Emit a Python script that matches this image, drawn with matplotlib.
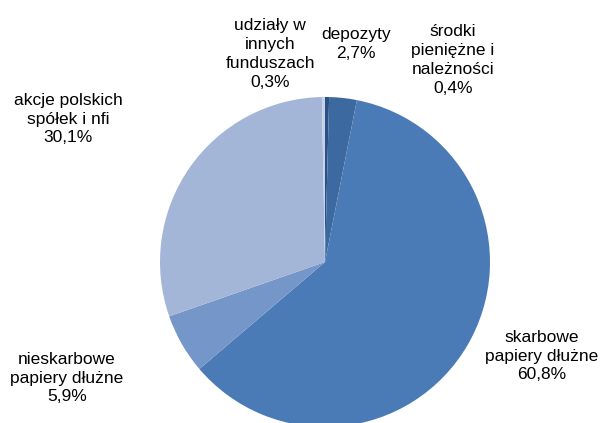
import matplotlib
matplotlib.use("Agg")
import matplotlib.pyplot as plt

labels = ["środki\npieniężne i\nnależności", "depozyty", "skarbowe\npapiery dłużne",
          "nieskarbowe\npapiery dłużne", "akcje polskich\nspółek i nfi", "udziały w\ninnych\nfunduszach"]
values = [0.4, 2.7, 60.8, 5.9, 30.1, 0.3]
pct_text = ["0,4%", "2,7%", "60,8%", "5,9%", "30,1%", "0,3%"]
colors = ["#2b4f86", "#3d69a1", "#4a7bb6", "#7596c8", "#a4b6d7", "#c6d1e7"]

# label centre positions in pixel coordinates (x, y from top)
label_pos = [(453, 60), (356, 44), (542, 356), (67, 378), (68, 119), (270, 54)]

W, H = 603, 423
fig = plt.figure(figsize=(W / 100, H / 100), dpi=100)
ax = fig.add_axes([0, 0, 1, 1])

ax.pie(values, colors=colors, startangle=90, counterclock=False,
       center=(325, H - 262), radius=165, frame=True,
       wedgeprops=dict(linewidth=0))
ax.set_xlim(0, W)
ax.set_ylim(0, H)
ax.set_aspect("equal")
ax.axis("off")

for lab, p, (x, y) in zip(labels, pct_text, label_pos):
    ax.text(x, H - y, lab + "\n" + p, ha="center", va="center",
            fontsize=12.5, family="Liberation Sans", color="#000000",
            linespacing=1.32)

fig.savefig("out.png", dpi=100)
